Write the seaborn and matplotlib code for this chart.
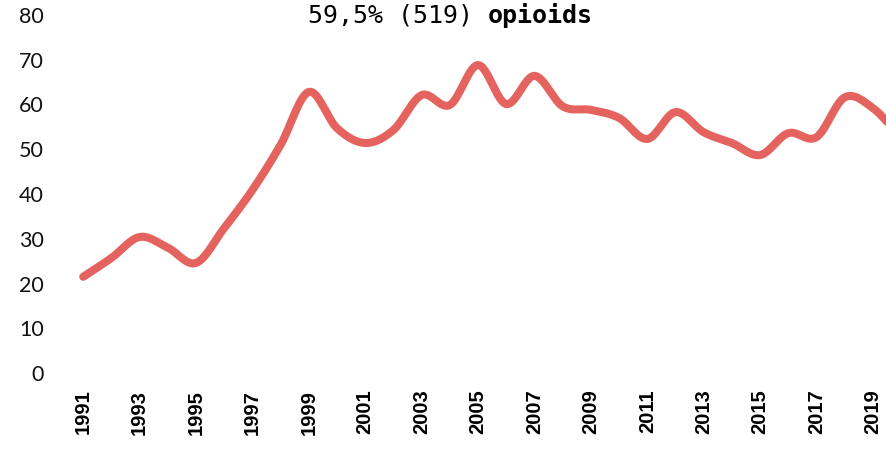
import numpy as np
import pandas as pd
import matplotlib
matplotlib.use("Agg")
import matplotlib.pyplot as plt
import seaborn as sns

years = list(range(1991, 2021))
values = [21.5, 25.7, 30.4, 28.0, 24.6, 32.4, 40.9, 51.0, 62.8, 54.7,
          51.4, 54.3, 62.1, 59.9, 68.8, 60.1, 66.4, 59.6, 58.8, 57.0,
          52.3, 58.3, 53.8, 51.4, 48.7, 53.6, 52.7, 61.6, 59.2, 52.5]
tick_years = list(range(1991, 2020, 2))
y_ticks = list(range(0, 81, 10))
title_num = "59,5% (519) "
title_word = "opioids"
line_color = "#E5635E"


def catmull_rom(x, y, n=30):
    x = np.asarray(x, float)
    y = np.asarray(y, float)
    xp = np.concatenate([[2 * x[0] - x[1]], x, [2 * x[-1] - x[-2]]])
    yp = np.concatenate([[2 * y[0] - y[1]], y, [2 * y[-1] - y[-2]]])
    xs, ys = [], []
    for i in range(1, len(xp) - 2):
        t = np.linspace(0, 1, n, endpoint=False)
        p0, p1, p2, p3 = yp[i - 1], yp[i], yp[i + 1], yp[i + 2]
        m1 = (p2 - p0) / 2
        m2 = (p3 - p1) / 2
        h00 = 2 * t**3 - 3 * t**2 + 1
        h10 = t**3 - 2 * t**2 + t
        h01 = -2 * t**3 + 3 * t**2
        h11 = t**3 - t**2
        ys.append(h00 * p1 + h10 * m1 + h01 * p2 + h11 * m2)
        xs.append(xp[i] + t * (xp[i + 1] - xp[i]))
    xs.append([x[-1]])
    ys.append([y[-1]])
    return np.concatenate(xs), np.concatenate(ys)


sx, sy = catmull_rom(years, values)
df = pd.DataFrame({"year": sx, "value": sy})

sns.set_theme(style="white")
fig = plt.figure(figsize=(8.87, 4.55), dpi=100)
ax = fig.add_axes([55 / 887, 82 / 455, 832 / 887, 358 / 455])
sns.lineplot(data=df, x="year", y="value", ax=ax, color=line_color,
             linewidth=5.8, solid_capstyle="round", clip_on=True)
ax.set_xlim(1990, 2019.5)
ax.set_ylim(0, 80)
ax.set_xticks(tick_years)
ax.set_xticklabels([str(y) for y in tick_years], rotation=90,
                   fontsize=14.5, fontweight="bold", family="Liberation Sans",
                   color="black")
ax.set_yticks(y_ticks)
ax.set_yticklabels([str(v) for v in y_ticks], fontsize=15.5, family="Lato",
                   color="#111111")
ax.tick_params(axis="x", length=0, pad=12)
ax.tick_params(axis="y", length=0, pad=8)
ax.set_xlabel("")
ax.set_ylabel("")
for s in ax.spines.values():
    s.set_visible(False)
ax.grid(False)
split_x = 488 / 887
fig.text(split_x, 1 - 16 / 455, title_num, ha="right", va="center",
         fontsize=18, family="DejaVu Sans Mono", color="black")
fig.text(split_x, 1 - 16 / 455, title_word, ha="left", va="center",
         fontsize=18, family="DejaVu Sans Mono", fontweight="bold",
         color="black")
fig.savefig("out.png", dpi=100)
